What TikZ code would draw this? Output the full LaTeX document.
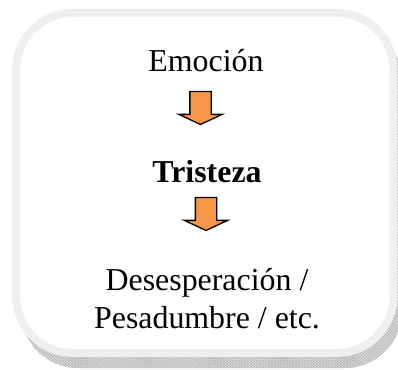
\documentclass[tikz,border=0pt]{standalone}
\usepackage{fontspec}
\setmainfont{Liberation Serif}
\usepackage{tikz}
\usetikzlibrary{calc,shapes.arrows,patterns}
\definecolor{arroworange}{HTML}{F79646}
\definecolor{framegray}{HTML}{EFEFEF}
\definecolor{shadowgray}{HTML}{E0E0E0}
\def\BoxRadius{57}
\def\FrameWidth{8}

\begin{document}
\begin{tikzpicture}[x=1bp,y=-1bp,
	label/.style={anchor=base,inner sep=0pt,font=\fontsize{32}{38}\selectfont},
	downarrow/.style={single arrow,draw=black,fill=arroworange,line width=1.3bp,
		inner sep=10bp,minimum height=33bp,
		single arrow head extend=11bp,single arrow tip angle=130,rotate=-90}]
	\useasboundingbox (0,0) rectangle (398,370);
	% shadow of the frame
	\fill[shadowgray,rounded corners=\BoxRadius] (21,24) rectangle (402,368);
	\fill[pattern=crosshatch,pattern color=gray!60,rounded corners=\BoxRadius] (21,24) rectangle (402,368);
	% frame
	\draw[framegray,fill=white,line width=\FrameWidth,rounded corners=\BoxRadius] (16,13) rectangle (393.5,353);
	% 
	\node[label] (emo) at (206,71) {Emoción};
	\node[label,font=\fontsize{32}{38}\selectfont\bfseries] (tri) at (207,182) {Tristeza};
	\node[label,align=center] (des) at (207,328) {Desesperación /\\Pesadumbre / etc.};
	% 
	\node[downarrow] (a1) at (200.5,105.5) {};
	\node[downarrow] (a2) at (206,211.5) {};
\end{tikzpicture}
\end{document}
